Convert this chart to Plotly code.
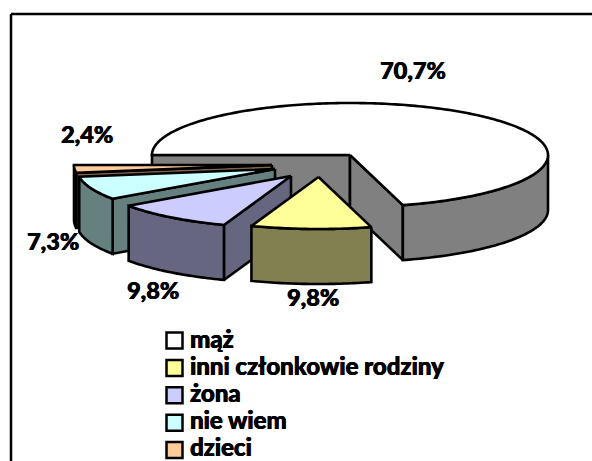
import math
import plotly.graph_objects as go

# --- data ---
categories = ["mąż", "inni członkowie rodziny", "żona", "nie wiem", "dzieci"]
shares = [70.7, 9.8, 9.8, 7.3, 2.4]

# --- styling / layout (pixel space) ---
top_colors = ["#FFFFFF", "#FFFF99", "#CCCCFF", "#CCFFFF", "#FFCC99"]
side_colors = ["#808080", "#808050", "#666680", "#668080", "#806650"]
apexes = [(350, 155), (318.5, 177), (291, 176), (275, 169), (272, 165)]
label_pos = [(413, 70), (313, 297), (153, 290), (53, 241), (87, 134)]
legend_x, legend_y0, legend_dy = 174.5, 340.5, 27.4
text_y0, text_dy = 338.5, 27.0
RX, RY, DEPTH = 198, 52, 55
START = 270.0
LW = 2.6
FONT = "Lato"
HEAVY = "0.4px 0 0 black, -0.3px 0 0 black"


def pt(apex, a, dz=0):
    r = math.radians(a)
    return apex[0] + RX * math.sin(r), apex[1] - RY * math.cos(r) + dz


def arc(apex, a0, a1, dz=0, step=1.0):
    n = max(2, int(abs(a1 - a0) / step))
    return [pt(apex, a0 + (a1 - a0) * i / n, dz) for i in range(n + 1)]


def poly(points, fill, name):
    xs = [p[0] for p in points] + [points[0][0]]
    ys = [p[1] for p in points] + [points[0][1]]
    return go.Scatter(x=xs, y=ys, mode="lines", fill="toself", fillcolor=fill,
                      line=dict(color="black", width=LW, simplify=False),
                      name=name, showlegend=False, hoverinfo="skip")


# Slice angle ranges follow from the shares
ranges = []
a = START
for s in shares:
    ranges.append((a, a + s * 3.6))
    a += s * 3.6

fig = go.Figure()

# painter's order: main pie at the back, then the exploded slices from back to front
order = [0, 4, 3, 2, 1]
for i in order:
    a0, a1 = ranges[i]
    A = apexes[i]
    name = categories[i]
    faces = []
    # radial faces facing the viewer
    if math.cos(math.radians(a0 - 90)) < 0:
        p = pt(A, a0)
        faces.append([A, p, (p[0], p[1] + DEPTH), (A[0], A[1] + DEPTH)])
    if math.cos(math.radians(a1 + 90)) < 0:
        p = pt(A, a1)
        faces.append([A, p, (p[0], p[1] + DEPTH), (A[0], A[1] + DEPTH)])
    for f in faces:
        fig.add_trace(poly(f, side_colors[i], name))
    # outer curved face: front half only
    best = None
    for k in (0, 1):
        lo = max(a0, 90 + 360 * k)
        hi = min(a1, 270 + 360 * k)
        if hi > lo and (best is None or hi - lo > best[1] - best[0]):
            best = (lo, hi)
    if best:
        lo, hi = best
        fig.add_trace(poly(arc(A, lo, hi) + arc(A, hi, lo, DEPTH), side_colors[i], name))
    # top surface
    fig.add_trace(poly([A] + arc(A, a0, a1), top_colors[i], name))

# frame (top and left edges, the rest is cut off)
fig.add_shape(type="line", x0=11, x1=592, y0=14, y1=14, line=dict(color="black", width=2.5))
fig.add_shape(type="line", x0=11, x1=11, y0=14, y1=461, line=dict(color="black", width=2.5))

# legend swatches
legend_ys = [legend_y0 + legend_dy * k for k in range(len(categories))]
text_ys = [text_y0 + text_dy * k for k in range(len(categories))]
fig.add_trace(go.Scatter(x=[legend_x] * len(categories), y=legend_ys, mode="markers",
                         showlegend=False, hoverinfo="skip",
                         marker=dict(symbol="square", size=16, color=top_colors,
                                     line=dict(color="black", width=2.5))))

# data labels
annotations = [
    dict(x=p[0], y=p[1], xref="x", yref="y", showarrow=False,
         text=f"{s:.1f}%".replace(".", ","),
         font=dict(family=FONT, size=23.5, color="black", weight=900, shadow=HEAVY))
    for s, p in zip(shares, label_pos)
]
# legend labels
annotations += [
    dict(x=188, y=y, xref="x", yref="y", xanchor="left", showarrow=False,
         text=c, font=dict(family=FONT, size=24, color="black", weight=900, shadow=HEAVY))
    for c, y in zip(categories, text_ys)
]

fig.update_layout(
    width=592, height=461, autosize=False,
    margin=dict(l=0, r=0, t=0, b=0),
    paper_bgcolor="white", plot_bgcolor="white",
    showlegend=False,
    xaxis=dict(range=[0, 592], visible=False, fixedrange=True),
    yaxis=dict(range=[461, 0], visible=False, fixedrange=True),
    annotations=annotations,
)

fig.write_html("out.html", config=dict(displayModeBar=False),
               post_script="document.body.style.margin='0';document.documentElement.style.overflow='hidden';")
